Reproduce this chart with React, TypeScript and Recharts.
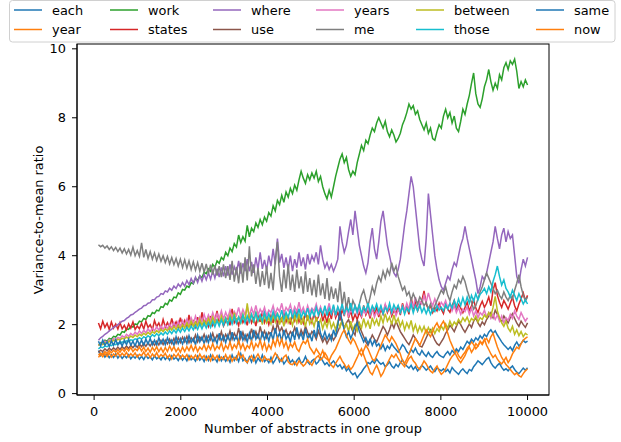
import React from "react";
import { LineChart, Line, XAxis, YAxis } from "recharts";

const X_VALUES = Array.from({ length: 200 }, (_, i) => Math.round(100 + (i * 9900) / 199));
const X_TICKS = [0, 2000, 4000, 6000, 8000, 10000];
const Y_TICKS = [0, 2, 4, 6, 8, 10];

const each = [
  1.25, 1.10, 1.18, 1.06, 1.14, 1.04, 1.12, 1.05, 1.15, 1.03,
  1.12, 1.02, 1.10, 1.04, 1.13, 1.01, 1.09, 1.03, 1.11, 1.00,
  1.08, 0.99, 1.11, 1.02, 1.07, 0.98, 1.10, 1.01, 1.06, 0.98,
  1.09, 0.99, 1.07, 0.97, 1.10, 1.00, 1.05, 0.96, 1.08, 0.97,
  1.06, 0.95, 1.10, 0.98, 1.04, 0.94, 1.09, 0.97, 1.05, 0.93,
  1.08, 0.96, 1.12, 0.97, 1.03, 0.92, 1.10, 0.95, 1.06, 0.94,
  1.04, 0.91, 1.12, 0.96, 1.08, 0.93, 1.16, 0.95, 1.02, 0.90,
  1.06, 0.92, 1.10, 0.89, 1.03, 0.94, 1.12, 0.93, 1.00, 0.90,
  1.05, 0.88, 0.98, 1.10, 0.92, 1.02, 0.86, 0.95, 1.06, 0.90,
  0.98, 0.85, 0.96, 1.04, 0.88, 0.93, 1.08, 0.92, 0.85, 0.95,
  1.00, 0.86, 0.92, 1.05, 0.95, 0.84, 0.90, 0.80, 0.88, 0.95,
  0.86, 0.78, 0.84, 0.72, 0.80, 0.66, 0.74, 0.62, 0.55, 0.60,
  0.46, 0.55, 0.62, 0.72, 0.80, 0.90, 0.86, 0.95, 0.88, 1.00,
  0.92, 0.85, 0.90, 0.78, 0.84, 0.92, 0.80, 0.74, 0.85, 0.78,
  0.90, 0.98, 0.86, 0.80, 0.74, 0.82, 0.70, 0.78, 0.66, 0.74,
  0.82, 0.76, 0.68, 0.74, 0.80, 0.70, 0.64, 0.75, 0.70, 0.66,
  0.72, 0.64, 0.70, 0.60, 0.76, 0.68, 0.62, 0.56, 0.66, 0.72,
  0.64, 0.58, 0.70, 0.66, 0.78, 0.86, 0.95, 0.90, 0.84, 0.92,
  1.00, 1.05, 0.90, 0.80, 0.74, 0.82, 0.88, 0.76, 0.68, 0.72,
  0.66, 0.74, 0.80, 0.70, 0.62, 0.58, 0.66, 0.74, 0.68, 0.75,
];
const year = [
  1.05, 1.14, 1.07, 1.16, 1.08, 1.18, 1.06, 1.15, 1.09, 1.19,
  1.08, 1.17, 1.10, 1.20, 1.07, 1.16, 1.09, 1.18, 1.06, 1.14,
  1.10, 1.21, 1.08, 1.17, 1.04, 1.15, 1.07, 1.19, 1.05, 1.13,
  1.08, 1.17, 1.03, 1.12, 1.00, 1.14, 1.06, 1.16, 1.02, 1.12,
  1.04, 1.13, 0.98, 1.10, 1.02, 1.12, 0.99, 1.15, 1.03, 1.10,
  0.97, 1.08, 0.95, 1.12, 1.00, 1.10, 0.96, 1.06, 0.99, 1.13,
  0.97, 1.10, 0.94, 1.05, 0.98, 1.20, 1.04, 1.12, 0.96, 0.90,
  1.02, 1.10, 0.95, 1.05, 1.15, 1.02, 0.94, 1.08, 0.98, 1.00,
  0.92, 1.05, 1.18, 1.08, 1.00, 0.94, 1.06, 1.12, 0.92, 0.86,
  0.84, 0.92, 0.82, 0.95, 0.88, 0.80, 0.86, 0.98, 0.90, 0.82,
  0.95, 1.05, 1.10, 0.98, 1.04, 1.18, 1.08, 0.92, 0.82, 0.76,
  0.88, 0.98, 1.08, 0.95, 0.86, 0.74, 0.82, 0.70, 0.78, 0.92,
  1.05, 1.20, 1.30, 1.12, 0.95, 0.78, 0.62, 0.55, 0.70, 0.82,
  0.68, 0.50, 0.60, 0.75, 0.88, 1.00, 1.12, 1.05, 1.15, 1.02,
  0.92, 0.85, 0.78, 0.90, 1.02, 1.08, 0.95, 0.88, 0.76, 0.70,
  0.82, 0.95, 0.86, 0.74, 0.65, 0.60, 0.72, 0.80, 0.66, 0.56,
  0.62, 0.72, 0.85, 0.98, 1.08, 1.15, 1.25, 1.10, 1.02, 1.12,
  1.20, 1.32, 1.40, 1.50, 1.42, 1.30, 1.38, 1.52, 1.45, 1.58,
  1.40, 1.28, 1.15, 1.05, 1.12, 1.00, 0.92, 0.86, 0.95, 0.84,
  0.78, 0.70, 0.62, 0.55, 0.60, 0.52, 0.48, 0.58, 0.66, 0.72,
];
const work = [
  1.40, 1.48, 1.45, 1.55, 1.52, 1.60, 1.58, 1.66, 1.64, 1.72,
  1.70, 1.80, 1.78, 1.88, 1.86, 1.95, 1.93, 2.02, 2.00, 2.10,
  2.08, 2.18, 2.15, 2.26, 2.24, 2.35, 2.32, 2.42, 2.40, 2.52,
  2.50, 2.62, 2.58, 2.72, 2.68, 2.80, 2.78, 2.92, 2.88, 3.02,
  3.00, 3.12, 3.08, 3.22, 3.18, 3.35, 3.28, 3.42, 3.36, 3.52,
  3.48, 3.62, 3.55, 3.75, 3.66, 3.85, 3.78, 3.95, 3.88, 4.10,
  4.00, 4.22, 4.12, 4.35, 4.25, 4.60, 4.38, 4.55, 4.42, 4.88,
  4.55, 4.80, 4.70, 4.95, 4.82, 5.05, 4.90, 5.12, 5.00, 5.25,
  5.15, 5.45, 5.30, 5.60, 5.48, 5.75, 5.55, 5.85, 5.70, 5.95,
  5.80, 6.05, 5.90, 6.20, 6.45, 6.25, 6.10, 6.35, 6.20, 6.40,
  6.25, 6.45, 6.15, 6.30, 6.00, 5.80, 5.65, 5.90, 5.70, 6.00,
  6.30, 6.55, 6.80, 6.95, 6.70, 6.85, 6.50, 6.30, 6.45, 6.35,
  6.70, 6.95, 7.20, 7.05, 7.35, 7.25, 7.50, 7.70, 7.60, 7.85,
  8.00, 7.85, 7.70, 7.90, 7.60, 7.45, 7.65, 7.50, 7.30, 7.40,
  7.55, 7.80, 7.95, 8.15, 8.40, 8.25, 8.35, 8.10, 8.20, 7.95,
  7.80, 7.65, 7.85, 7.55, 7.70, 7.40, 7.35, 7.60, 7.80, 7.70,
  8.05, 8.25, 8.00, 8.15, 7.85, 8.05, 7.70, 7.60, 7.90, 8.25,
  8.10, 8.40, 8.65, 9.00, 9.30, 8.70, 8.40, 8.30, 8.55, 8.90,
  9.10, 9.40, 9.05, 8.80, 9.00, 8.85, 9.25, 9.10, 9.45, 9.60,
  9.40, 9.65, 9.55, 9.70, 9.35, 8.85, 9.05, 8.90, 9.10, 8.95,
];
const states = [
  2.05, 1.88, 2.10, 1.92, 2.04, 1.86, 2.08, 1.90, 2.02, 1.87,
  2.06, 1.88, 1.98, 1.85, 2.02, 1.90, 2.08, 1.86, 1.96, 1.88,
  2.04, 1.87, 2.10, 1.92, 2.00, 1.85, 2.12, 1.94, 2.05, 1.89,
  2.15, 1.93, 2.06, 1.90, 2.18, 1.95, 2.08, 1.92, 2.20, 1.96,
  2.12, 1.94, 2.28, 1.98, 2.10, 1.93, 2.22, 1.97, 2.36, 2.00,
  2.14, 1.95, 2.25, 1.98, 2.12, 2.40, 2.05, 2.18, 1.96, 2.10,
  2.22, 1.98, 2.46, 2.05, 2.15, 1.97, 2.30, 2.06, 2.18, 1.98,
  2.32, 2.05, 2.20, 1.96, 2.28, 2.08, 2.40, 2.06, 2.22, 2.00,
  2.26, 2.05, 2.38, 2.02, 2.20, 2.10, 2.42, 2.08, 2.25, 2.00,
  2.30, 2.12, 2.45, 2.08, 2.22, 2.04, 2.35, 2.15, 2.28, 2.06,
  2.32, 2.12, 2.22, 2.48, 2.10, 2.30, 2.05, 2.38, 2.16, 2.52,
  2.20, 2.36, 2.12, 2.45, 2.25, 2.60, 2.20, 2.40, 2.12, 2.30,
  2.15, 2.35, 2.22, 2.56, 2.28, 2.42, 2.18, 2.50, 2.30, 2.48,
  2.22, 2.45, 2.30, 2.58, 2.35, 2.50, 2.25, 2.42, 2.32, 2.55,
  2.28, 2.62, 2.38, 2.52, 2.30, 2.80, 2.48, 2.65, 2.40, 2.55,
  2.70, 2.98, 2.60, 2.45, 2.55, 2.35, 2.50, 2.40, 2.62, 2.45,
  2.32, 2.58, 2.45, 2.36, 2.55, 2.70, 2.42, 2.58, 2.48, 2.35,
  2.50, 2.65, 2.40, 2.55, 2.72, 2.48, 2.35, 2.55, 2.68, 2.50,
  2.62, 2.80, 2.55, 3.00, 3.22, 2.85, 2.65, 2.50, 2.70, 2.58,
  2.45, 2.62, 2.80, 2.55, 2.40, 2.60, 2.75, 2.92, 2.70, 2.85,
];
const where = [
  1.55, 1.62, 1.66, 1.72, 1.76, 1.82, 1.86, 1.92, 1.95, 2.00,
  2.05, 2.10, 2.12, 2.18, 2.22, 2.28, 2.30, 2.36, 2.40, 2.45,
  2.48, 2.55, 2.56, 2.62, 2.64, 2.72, 2.72, 2.80, 2.82, 2.90,
  2.88, 2.98, 2.95, 3.06, 3.00, 3.12, 3.05, 3.18, 3.10, 3.22,
  3.12, 3.28, 3.16, 3.34, 3.20, 3.38, 3.22, 3.42, 3.26, 3.46,
  3.30, 3.50, 3.32, 3.56, 3.35, 3.62, 3.38, 3.66, 3.40, 3.70,
  3.42, 3.75, 3.45, 3.68, 3.50, 3.85, 3.48, 3.78, 3.55, 3.90,
  3.55, 3.82, 3.50, 3.95, 3.60, 4.10, 3.62, 3.88, 3.58, 4.00,
  3.70, 4.20, 3.75, 4.50, 3.80, 4.05, 3.65, 3.95, 3.60, 4.00,
  3.55, 3.90, 3.65, 4.10, 3.70, 3.95, 3.60, 4.05, 3.75, 4.00,
  3.85, 4.10, 3.75, 4.30, 3.90, 3.65, 3.80, 3.60, 3.75, 3.55,
  3.70, 3.90, 4.85, 4.40, 4.10, 4.30, 4.70, 5.05, 4.60, 5.30,
  4.80, 4.30, 4.00, 3.70, 3.50, 3.80, 4.40, 4.80, 4.20, 3.90,
  4.40, 5.00, 5.30, 4.80, 4.30, 4.00, 3.70, 3.50, 3.40, 3.60,
  3.90, 4.40, 4.90, 5.30, 5.80, 6.30, 6.00, 5.40, 4.80, 4.20,
  3.90, 3.70, 4.50, 5.80, 5.20, 4.60, 4.00, 3.60, 3.30, 3.10,
  3.00, 3.20, 3.40, 3.30, 3.60, 3.80, 3.70, 4.00, 4.30, 4.50,
  4.85, 4.50, 4.20, 3.90, 3.60, 3.30, 2.90, 3.10, 3.40, 3.30,
  3.50, 3.80, 4.10, 4.40, 4.85, 4.50, 4.20, 4.60, 4.80, 4.40,
  4.70, 4.50, 4.60, 4.00, 3.40, 3.20, 3.60, 3.90, 3.70, 3.95,
];
const use = [
  1.20, 1.26, 1.22, 1.30, 1.24, 1.32, 1.26, 1.33, 1.27, 1.35,
  1.28, 1.36, 1.30, 1.38, 1.31, 1.40, 1.33, 1.42, 1.34, 1.44,
  1.36, 1.46, 1.37, 1.48, 1.38, 1.50, 1.40, 1.52, 1.41, 1.54,
  1.42, 1.55, 1.44, 1.58, 1.45, 1.60, 1.46, 1.62, 1.48, 1.64,
  1.50, 1.66, 1.48, 1.62, 1.52, 1.70, 1.50, 1.64, 1.55, 1.72,
  1.52, 1.68, 1.56, 1.75, 1.54, 1.70, 1.58, 1.80, 1.55, 1.72,
  1.60, 1.82, 1.58, 1.75, 1.62, 1.90, 1.60, 1.78, 1.56, 1.72,
  1.62, 1.88, 1.65, 1.80, 1.60, 1.95, 1.68, 1.82, 1.62, 1.78,
  1.70, 1.95, 1.75, 2.05, 1.80, 1.92, 1.72, 1.85, 1.66, 1.80,
  1.70, 1.92, 1.75, 1.62, 1.85, 1.70, 1.96, 1.78, 1.65, 1.80,
  1.72, 1.58, 1.82, 1.65, 1.50, 1.62, 1.45, 1.58, 1.70, 1.55,
  1.65, 1.80, 1.95, 2.10, 1.90, 2.05, 2.15, 1.95, 1.80, 1.70,
  2.15, 1.95, 1.80, 1.65, 1.50, 1.40, 1.55, 1.70, 1.58, 1.50,
  1.65, 1.80, 1.95, 1.85, 1.70, 1.85, 2.05, 1.90, 2.10, 1.95,
  1.80, 1.70, 1.60, 1.50, 1.42, 1.55, 1.70, 1.60, 1.50, 1.38,
  1.35, 1.48, 1.62, 1.75, 1.85, 1.70, 1.55, 1.45, 1.40, 1.50,
  1.60, 1.75, 1.85, 1.98, 1.90, 1.80, 1.95, 2.10, 2.00, 1.88,
  1.78, 1.90, 2.02, 1.92, 2.10, 2.20, 2.05, 1.95, 2.08, 2.00,
  2.15, 2.25, 2.35, 2.20, 2.42, 2.30, 2.18, 2.08, 2.25, 2.15,
  2.05, 2.20, 2.32, 2.18, 2.05, 1.95, 2.10, 2.00, 1.92, 2.05,
];
const years = [
  1.40, 1.46, 1.44, 1.52, 1.49, 1.56, 1.52, 1.60, 1.56, 1.63,
  1.60, 1.68, 1.63, 1.72, 1.66, 1.75, 1.69, 1.78, 1.72, 1.82,
  1.74, 1.84, 1.76, 1.88, 1.79, 1.90, 1.82, 1.94, 1.84, 1.96,
  1.86, 1.98, 1.88, 2.02, 1.90, 2.06, 1.93, 2.10, 1.95, 2.12,
  1.98, 2.16, 2.00, 2.20, 2.03, 2.25, 2.05, 2.22, 2.08, 2.30,
  2.10, 2.28, 2.12, 2.35, 2.15, 2.32, 2.18, 2.40, 2.16, 2.36,
  2.20, 2.42, 2.22, 2.38, 2.26, 2.50, 2.24, 2.44, 2.28, 2.52,
  2.25, 2.48, 2.30, 2.56, 2.28, 2.45, 2.32, 2.50, 2.26, 2.42,
  2.35, 2.55, 2.30, 2.48, 2.38, 2.62, 2.32, 2.50, 2.40, 2.58,
  2.32, 2.52, 2.38, 2.65, 2.35, 2.50, 2.30, 2.55, 2.36, 2.48,
  2.40, 2.60, 2.35, 2.52, 2.30, 2.48, 2.38, 2.62, 2.32, 2.45,
  2.28, 2.50, 2.36, 2.58, 2.30, 2.45, 2.25, 2.42, 2.34, 2.55,
  2.30, 2.48, 2.25, 2.40, 2.32, 2.55, 2.28, 2.45, 2.22, 2.38,
  2.30, 2.52, 2.35, 2.60, 2.40, 2.55, 2.32, 2.48, 2.26, 2.42,
  2.35, 2.55, 2.40, 2.62, 2.45, 2.70, 2.50, 2.80, 2.55, 2.68,
  2.60, 2.85, 2.65, 2.92, 2.70, 2.55, 2.75, 2.58, 2.50, 2.65,
  2.55, 2.70, 2.48, 2.62, 2.40, 2.55, 2.35, 2.50, 2.30, 2.45,
  2.38, 2.52, 2.30, 2.48, 2.25, 2.40, 2.20, 2.35, 2.28, 2.42,
  2.22, 2.35, 2.18, 2.30, 2.15, 2.28, 2.10, 2.25, 2.05, 2.20,
  2.12, 2.30, 2.18, 2.40, 2.25, 2.15, 2.35, 2.22, 2.10, 2.20,
];
const me = [
  4.32, 4.26, 4.30, 4.22, 4.28, 4.18, 4.26, 4.15, 4.24, 4.12,
  4.22, 4.08, 4.20, 4.05, 4.18, 4.02, 4.25, 4.00, 4.15, 3.98,
  4.37, 3.95, 4.18, 3.92, 4.12, 3.90, 4.08, 3.86, 4.05, 3.84,
  4.00, 3.80, 3.98, 3.76, 3.95, 3.74, 3.92, 3.70, 3.90, 3.66,
  3.88, 3.64, 3.85, 3.60, 3.82, 3.58, 3.80, 3.55, 3.78, 3.52,
  3.76, 3.48, 3.74, 3.45, 3.72, 3.42, 3.70, 3.38, 3.75, 3.35,
  3.70, 3.30, 3.85, 3.25, 3.68, 3.20, 3.80, 3.22, 3.95, 3.28,
  4.27, 3.40, 3.75, 3.18, 3.65, 3.10, 3.55, 3.15, 3.70, 3.05,
  3.50, 3.00, 3.85, 4.40, 3.40, 2.95, 3.60, 3.05, 3.75, 3.00,
  3.45, 2.95, 3.60, 3.05, 3.40, 2.90, 3.55, 2.95, 3.35, 2.85,
  3.30, 2.80, 3.45, 2.85, 3.20, 2.75, 3.35, 2.70, 3.10, 2.75,
  3.05, 2.65, 3.25, 2.55, 2.95, 2.45, 2.80, 2.40, 2.70, 2.55,
  2.40, 2.60, 2.85, 3.00, 2.75, 2.55, 2.80, 3.10, 2.90, 3.20,
  3.40, 3.25, 3.55, 3.35, 3.60, 3.45, 3.80, 3.55, 3.70, 3.40,
  3.20, 3.00, 3.10, 2.85, 2.95, 2.70, 2.90, 2.75, 2.60, 2.80,
  2.70, 2.55, 2.65, 2.45, 2.60, 2.40, 2.55, 2.70, 2.85, 3.00,
  2.90, 3.10, 2.85, 2.70, 2.95, 3.15, 3.05, 3.30, 3.20, 3.40,
  3.25, 3.00, 2.80, 2.65, 2.45, 2.55, 2.75, 2.95, 3.10, 3.30,
  3.50, 3.35, 3.20, 3.05, 2.90, 3.00, 2.85, 2.75, 2.95, 2.80,
  2.70, 2.85, 2.75, 3.00, 3.20, 3.45, 3.10, 2.85, 2.70, 2.80,
];
const between = [
  1.40, 1.45, 1.42, 1.48, 1.46, 1.52, 1.49, 1.55, 1.52, 1.58,
  1.55, 1.61, 1.58, 1.64, 1.60, 1.67, 1.63, 1.70, 1.65, 1.72,
  1.68, 1.75, 1.70, 1.78, 1.72, 1.80, 1.75, 1.83, 1.77, 1.86,
  1.80, 1.88, 1.82, 1.92, 1.84, 1.95, 1.86, 1.98, 1.88, 2.00,
  1.90, 2.05, 1.92, 2.10, 1.95, 2.08, 1.97, 2.15, 1.98, 2.12,
  2.00, 2.18, 2.02, 2.22, 2.04, 2.15, 2.00, 2.25, 2.06, 2.20,
  2.02, 2.28, 2.06, 2.35, 2.08, 2.22, 2.05, 2.30, 2.10, 2.62,
  2.15, 2.30, 2.05, 2.38, 2.10, 2.25, 2.00, 2.32, 2.06, 2.20,
  2.02, 2.28, 2.08, 2.35, 2.00, 2.22, 1.95, 2.30, 2.05, 2.18,
  1.98, 2.25, 2.05, 2.32, 2.00, 2.20, 1.94, 2.28, 2.02, 2.15,
  1.95, 2.22, 2.00, 2.15, 1.88, 2.10, 1.92, 2.18, 1.90, 2.05,
  1.85, 2.08, 1.92, 2.15, 1.88, 2.02, 1.80, 2.10, 1.85, 2.00,
  1.82, 2.05, 1.90, 2.18, 1.95, 2.10, 1.88, 2.20, 2.00, 2.15,
  1.95, 2.25, 2.05, 2.32, 2.10, 2.22, 2.00, 2.28, 2.05, 2.18,
  1.95, 2.10, 1.85, 2.05, 1.90, 2.12, 1.82, 2.00, 1.78, 1.95,
  1.80, 1.95, 1.75, 1.92, 1.78, 1.90, 1.74, 1.88, 1.80, 1.96,
  1.85, 2.02, 1.90, 2.10, 1.95, 2.08, 2.00, 2.15, 2.05, 2.20,
  2.10, 2.22, 2.05, 2.18, 2.12, 2.25, 2.08, 2.20, 2.15, 2.28,
  2.20, 2.35, 2.25, 2.50, 2.82, 2.40, 2.20, 2.05, 1.95, 2.10,
  1.90, 1.80, 1.95, 1.72, 1.85, 1.68, 1.80, 1.65, 1.75, 1.70,
];
const those = [
  1.30, 1.35, 1.33, 1.38, 1.36, 1.41, 1.39, 1.44, 1.42, 1.47,
  1.45, 1.50, 1.48, 1.53, 1.51, 1.56, 1.54, 1.59, 1.57, 1.62,
  1.58, 1.65, 1.61, 1.68, 1.63, 1.71, 1.66, 1.74, 1.68, 1.76,
  1.70, 1.79, 1.72, 1.82, 1.74, 1.85, 1.76, 1.88, 1.78, 1.90,
  1.80, 1.93, 1.82, 1.96, 1.85, 1.98, 1.86, 2.02, 1.88, 2.04,
  1.90, 2.06, 1.92, 2.10, 1.94, 2.12, 1.96, 2.15, 1.98, 2.18,
  2.00, 2.20, 2.02, 2.24, 2.04, 2.22, 2.06, 2.28, 2.05, 2.25,
  2.08, 2.30, 2.10, 2.34, 2.12, 2.28, 2.10, 2.35, 2.14, 2.32,
  2.12, 2.38, 2.16, 2.32, 2.18, 2.42, 2.15, 2.36, 2.20, 2.45,
  2.18, 2.40, 2.22, 2.46, 2.20, 2.38, 2.25, 2.48, 2.22, 2.42,
  2.25, 2.50, 2.28, 2.45, 2.30, 2.55, 2.26, 2.48, 2.32, 2.58,
  2.28, 2.52, 2.35, 2.60, 2.32, 2.50, 2.38, 2.62, 2.34, 2.55,
  2.36, 2.58, 2.32, 2.52, 2.40, 2.62, 2.35, 2.55, 2.42, 2.60,
  2.38, 2.55, 2.32, 2.50, 2.40, 2.62, 2.36, 2.58, 2.44, 2.56,
  2.35, 2.52, 2.30, 2.48, 2.38, 2.60, 2.34, 2.55, 2.40, 2.58,
  2.36, 2.50, 2.32, 2.48, 2.30, 2.45, 2.38, 2.55, 2.42, 2.50,
  2.40, 2.58, 2.45, 2.62, 2.48, 2.70, 2.52, 2.75, 2.55, 2.78,
  2.58, 2.80, 2.62, 2.85, 2.68, 2.90, 2.72, 2.88, 2.95, 3.05,
  2.90, 3.10, 2.95, 3.25, 3.45, 3.70, 3.40, 3.15, 3.30, 3.05,
  2.95, 2.80, 3.00, 2.85, 2.70, 2.90, 2.75, 2.60, 2.72, 2.60,
];
const same = [
  1.52, 1.38, 1.55, 1.40, 1.50, 1.37, 1.53, 1.40, 1.56, 1.41,
  1.52, 1.38, 1.55, 1.42, 1.58, 1.40, 1.52, 1.38, 1.56, 1.42,
  1.55, 1.40, 1.58, 1.44, 1.60, 1.42, 1.55, 1.40, 1.62, 1.45,
  1.58, 1.42, 1.62, 1.46, 1.56, 1.40, 1.65, 1.45, 1.60, 1.44,
  1.62, 1.45, 1.68, 1.48, 1.60, 1.42, 1.70, 1.50, 1.64, 1.46,
  1.66, 1.48, 1.72, 1.50, 1.62, 1.45, 1.75, 1.52, 1.68, 1.48,
  1.70, 1.50, 1.78, 1.55, 1.66, 1.48, 1.82, 1.55, 1.70, 1.50,
  1.75, 1.52, 1.85, 1.58, 1.72, 1.50, 1.80, 1.56, 1.74, 1.52,
  1.78, 1.55, 1.90, 1.60, 1.76, 1.52, 1.85, 1.58, 1.70, 1.50,
  1.80, 1.56, 1.92, 1.62, 1.75, 1.55, 1.88, 1.60, 1.72, 1.52,
  1.85, 1.62, 2.10, 1.75, 1.60, 1.80, 1.58, 1.72, 1.55, 1.85,
  1.65, 2.00, 2.40, 2.10, 1.85, 1.65, 1.80, 1.60, 1.75, 1.95,
  2.05, 1.80, 1.65, 1.50, 1.62, 1.45, 1.58, 1.40, 1.55, 1.38,
  1.45, 1.30, 1.42, 1.25, 1.38, 1.30, 1.45, 1.35, 1.28, 1.20,
  1.30, 1.42, 1.35, 1.22, 1.15, 1.28, 1.20, 1.32, 1.18, 1.12,
  1.25, 1.15, 1.08, 1.20, 1.10, 1.05, 1.15, 1.22, 1.12, 1.08,
  1.05, 1.15, 1.22, 1.12, 1.25, 1.18, 1.30, 1.22, 1.35, 1.28,
  1.40, 1.52, 1.45, 1.58, 1.50, 1.62, 1.55, 1.68, 1.60, 1.72,
  1.65, 1.78, 1.85, 1.75, 1.82, 1.70, 1.60, 1.50, 1.42, 1.35,
  1.28, 1.35, 1.25, 1.40, 1.50, 1.38, 1.45, 1.55, 1.48, 1.52,
];
const now = [
  1.12, 1.18, 1.14, 1.22, 1.16, 1.25, 1.18, 1.26, 1.20, 1.28,
  1.20, 1.30, 1.22, 1.32, 1.24, 1.34, 1.22, 1.30, 1.25, 1.35,
  1.24, 1.35, 1.22, 1.32, 1.20, 1.34, 1.24, 1.36, 1.22, 1.33,
  1.20, 1.34, 1.22, 1.38, 1.25, 1.36, 1.22, 1.32, 1.20, 1.35,
  1.22, 1.36, 1.25, 1.40, 1.24, 1.38, 1.22, 1.35, 1.28, 1.42,
  1.25, 1.40, 1.28, 1.45, 1.26, 1.38, 1.30, 1.48, 1.25, 1.40,
  1.30, 1.50, 1.28, 1.42, 1.32, 1.55, 1.30, 1.45, 1.26, 1.40,
  1.32, 1.52, 1.28, 1.45, 1.35, 1.55, 1.30, 1.48, 1.25, 1.42,
  1.30, 1.55, 1.38, 1.62, 1.40, 1.58, 1.35, 1.50, 1.28, 1.45,
  1.35, 1.50, 1.30, 1.22, 1.40, 1.52, 1.45, 1.58, 1.35, 1.25,
  1.15, 1.30, 1.20, 1.10, 1.25, 1.05, 1.00, 0.95, 1.10, 1.20,
  1.30, 1.45, 1.60, 1.75, 1.85, 1.70, 1.55, 1.45, 1.60, 1.50,
  1.35, 1.20, 1.10, 1.25, 1.40, 1.30, 1.15, 1.00, 0.95, 1.10,
  1.25, 1.40, 1.55, 1.70, 1.60, 1.50, 1.65, 1.55, 1.45, 1.30,
  1.15, 0.95, 0.88, 1.00, 1.15, 1.30, 1.45, 1.60, 1.50, 1.40,
  1.55, 1.70, 1.85, 1.75, 1.65, 1.80, 1.95, 2.05, 1.90, 2.00,
  2.10, 1.95, 1.75, 1.55, 1.40, 1.25, 1.10, 0.98, 0.90, 1.00,
  1.10, 1.25, 1.35, 1.20, 1.30, 1.45, 1.38, 1.50, 1.42, 1.55,
  1.60, 1.48, 1.65, 1.75, 1.55, 1.35, 1.20, 1.05, 0.95, 1.05,
  0.90, 1.00, 1.15, 1.25, 1.35, 1.30, 1.45, 1.55, 1.60, 1.65,
];

const SERIES_NAMES = ["each", "year", "work", "states", "where", "use", "years", "me", "between", "those", "same", "now"];
const SERIES_VALUES = [each, year, work, states, where, use, years, me, between, those, same, now];
const SERIES_COLORS = ["#1f77b4", "#ff7f0e", "#2ca02c", "#d62728", "#9467bd", "#8c564b", "#e377c2", "#7f7f7f", "#bcbd22", "#17becf", "#1f77b4", "#ff7f0e"];

const data = X_VALUES.map((x, i) => {
  const row: Record<string, number> = { x };
  SERIES_NAMES.forEach((n, k) => {
    row[n] = SERIES_VALUES[k][i];
  });
  return row;
});

const FONT = '"DejaVu Sans", sans-serif';
const FS = 12.9;
const LEGEND_COLS = [14, 110, 213, 316, 416, 536];
const LEGEND_ROWS = [10, 29.5];

export default function App() {
  return (
    <div style={{ position: "absolute", left: 0, top: 0, width: 621, height: 442, background: "#fff", fontFamily: FONT }}>
      <LineChart width={621} height={442} data={data} margin={{ top: 44, right: 72, bottom: 0, left: 0 }}>
        <XAxis
          type="number"
          dataKey="x"
          domain={[-395, 10495]}
          ticks={X_TICKS}
          interval={0}
          allowDataOverflow
          height={47}
          tickSize={5}
          tickMargin={7}
          stroke="#000"
          tick={{ fill: "#000", fontSize: FS, fontFamily: FONT }}
        />
        <YAxis
          type="number"
          domain={[-0.04, 10.14]}
          ticks={Y_TICKS}
          interval={0}
          allowDataOverflow
          width={77}
          tickSize={5}
          tickMargin={6}
          stroke="#000"
          tick={{ fill: "#000", fontSize: FS, fontFamily: FONT }}
        />
        {SERIES_NAMES.map((n, k) => (
          <Line
            key={n}
            type="linear"
            dataKey={n}
            stroke={SERIES_COLORS[k]}
            strokeWidth={1.5}
            dot={false}
            activeDot={false}
            isAnimationActive={false}
          />
        ))}
      </LineChart>
      <svg width={621} height={442} style={{ position: "absolute", left: 0, top: 0, pointerEvents: "none" }}>
        <rect x={77} y={44} width={472} height={351} fill="none" stroke="#000" strokeWidth={1} />
        <text x={313} y={428} textAnchor="middle" dominantBaseline="central" fontSize={FS} fontFamily={FONT} fill="#000">
          Number of abstracts in one group
        </text>
        <text x={38} y={220} textAnchor="middle" dominantBaseline="central" fontSize={FS} fontFamily={FONT} fill="#000" transform="rotate(-90 38 220)">
          Variance-to-mean ratio
        </text>
        <rect x={9.5} y={0.5} width={605.5} height={41.5} rx={3} ry={3} fill="rgba(255,255,255,0.8)" stroke="#d0d0d0" strokeWidth={1} />
        {SERIES_NAMES.map((n, k) => {
          const col = Math.floor(k / 2);
          const row = k % 2;
          const lx = LEGEND_COLS[col];
          const ly = LEGEND_ROWS[row];
          return (
            <g key={n}>
              <line x1={lx} x2={lx + 28} y1={ly} y2={ly} stroke={SERIES_COLORS[k]} strokeWidth={1.5} />
              <text x={lx + 38} y={ly} dominantBaseline="central" fontSize={FS} fontFamily={FONT} fill="#000">
                {n}
              </text>
            </g>
          );
        })}
      </svg>
    </div>
  );
}
